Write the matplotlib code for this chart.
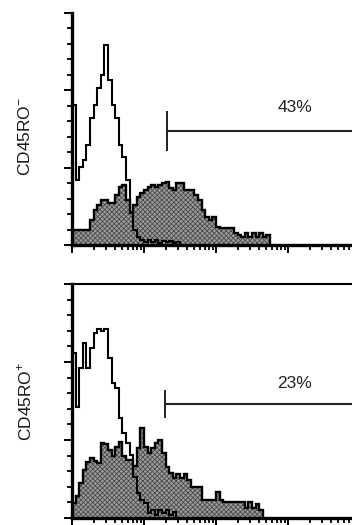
import numpy as np
import matplotlib
matplotlib.use('Agg')
import matplotlib.pyplot as plt
from matplotlib.ticker import LogLocator, NullFormatter, FixedLocator

plt.rcParams['font.family'] = ['Liberation Sans', 'DejaVu Sans']
plt.rcParams['mathtext.fontset'] = 'custom'
plt.rcParams['mathtext.rm'] = 'Liberation Sans'
plt.rcParams['hatch.linewidth'] = 0.6

# histogram channels: 0.05 decade wide, starting at 10^0
bin_width = 0.05

# CD45RO- panel
top_open = [140, 65, 78, 85, 100, 127, 140, 157, 170, 200, 165, 140, 127, 100, 88,
            65, 33, 15, 8, 5, 3, 5, 3, 5, 2, 4, 3, 4, 2, 3]
top_filled = [15, 15, 15, 15, 15, 25, 35, 40, 45, 45, 42, 42, 50, 58, 60,
              45, 32, 40, 48, 52, 55, 58, 60, 58, 60, 62, 63, 57, 55, 62,
              62, 55, 55, 55, 50, 45, 35, 28, 25, 28, 18, 17, 17, 17, 17,
              12, 10, 8, 12, 8, 12, 8, 12, 8, 10]
top_pct = '43%'
top_gate = 21.1

# CD45RO+ panel
bot_open = [165, 111, 150, 175, 150, 170, 185, 189, 187, 189, 160, 135, 130, 100, 85,
            75, 63, 41, 25, 18, 15, 5, 8, 3, 8, 5, 8, 3, 6]
bot_filled = [15, 22, 35, 48, 56, 60, 57, 55, 75, 74, 68, 62, 71, 76, 62,
              58, 58, 52, 70, 90, 71, 65, 70, 75, 78, 65, 51, 45, 40, 44,
              40, 44, 38, 31, 31, 31, 18, 18, 18, 18, 26, 18, 16, 16, 16,
              16, 16, 16, 10, 16, 10, 14, 8]
bot_pct = '23%'
bot_gate = 19.8

W, H = 352, 525
fig = plt.figure(figsize=(W / 100, H / 100), dpi=100)
fig.patch.set_facecolor('white')


def panel(rect, ymax, open_vals, filled_vals, gate, pct, gate_y, gate_half, text_y, top_spine):
    ax = fig.add_axes(rect)
    ax.set_xscale('log')
    ax.set_xlim(1, 1e4)
    ax.set_ylim(0, ymax)

    edges_f = 10 ** (bin_width * np.arange(len(filled_vals) + 1))
    edges_o = 10 ** (bin_width * np.arange(len(open_vals) + 1))

    ax.stairs(filled_vals, edges_f, fill=True, facecolor='#9c9c9c', edgecolor='#4a4a4a',
              hatch='xxxxxxx', linewidth=0, zorder=2)
    ax.stairs(filled_vals, edges_f, color='black', linewidth=1.7, zorder=3)
    ax.stairs(open_vals, edges_o, color='black', linewidth=1.5, zorder=4)

    # gate marker
    ax.plot([gate, gate], [gate_y - gate_half, gate_y + gate_half], color='#222222', lw=1.4,
            solid_capstyle='butt', clip_on=False)
    ax.plot([gate, 2e4], [gate_y, gate_y], color='#222222', lw=1.5, clip_on=False)
    ax.text(1250, text_y, pct, ha='center', va='center', fontsize=12.5, color='#222222')

    ax.spines['right'].set_visible(False)
    ax.spines['top'].set_visible(top_spine)
    ax.spines['top'].set_linewidth(1.5)
    ax.spines['left'].set_linewidth(2.4)
    ax.spines['bottom'].set_linewidth(2.4)

    ax.xaxis.set_major_locator(LogLocator(base=10, numticks=10))
    ax.xaxis.set_minor_locator(LogLocator(base=10, subs=np.arange(2, 10), numticks=50))
    ax.xaxis.set_major_formatter(NullFormatter())
    ax.xaxis.set_minor_formatter(NullFormatter())
    ax.yaxis.set_major_locator(FixedLocator(np.linspace(0, ymax, 4)))
    ax.yaxis.set_minor_locator(FixedLocator(np.linspace(0, ymax, 16)))
    ax.yaxis.set_major_formatter(NullFormatter())
    ax.tick_params(which='major', direction='out', length=6, width=1.4, color='black')
    ax.tick_params(which='minor', direction='out', length=3.5, width=1.3, color='black')
    ax.tick_params(top=False, right=False, which='both')
    return ax


ax1 = panel([72 / W, (H - 245) / H, 288 / W, 232 / H], 232, top_open, top_filled,
            top_gate, top_pct, 114, 20, 138, False)
ax2 = panel([72 / W, (H - 518) / H, 288 / W, 234 / H], 234, bot_open, bot_filled,
            bot_gate, bot_pct, 114, 14, 135, True)

fig.text(25 / W, (H - 136) / H, r'CD45RO$^{-}$', rotation=90, ha='center', va='center',
         fontsize=12.5, color='#1a1a1a')
fig.text(25 / W, (H - 401) / H, r'CD45RO$^{+}$', rotation=90, ha='center', va='center',
         fontsize=12.5, color='#1a1a1a')

fig.savefig('out.png', dpi=100)
